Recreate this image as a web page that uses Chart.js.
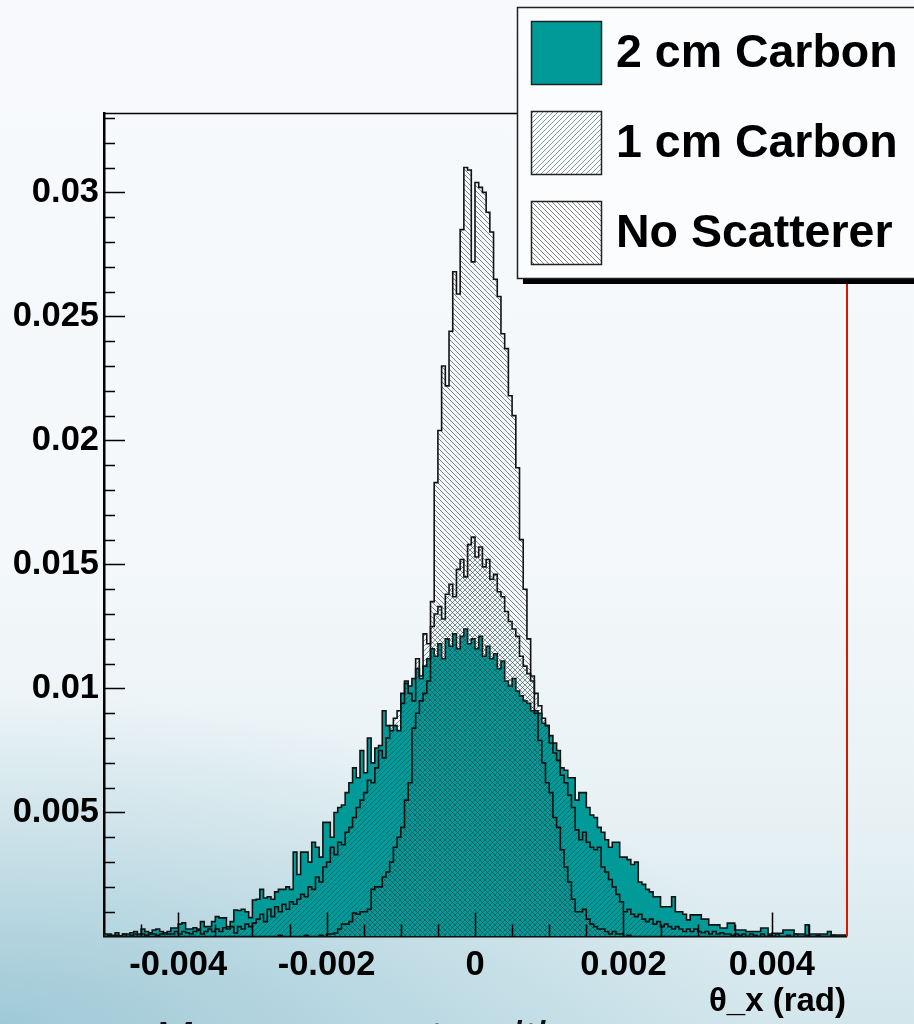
<!DOCTYPE html>
<html>
<head>
<meta charset="utf-8">
<script src="https://cdn.jsdelivr.net/npm/chart.js@4"></script>
<style>
  html, body { margin: 0; padding: 0; }
  body {
    width: 914px; height: 1024px; overflow: hidden; position: relative;
    background:
      radial-gradient(ellipse 760px 330px at 0% 100%, rgba(118, 178, 198, 0.55), rgba(118, 178, 198, 0) 100%),
      linear-gradient(to bottom, #f7f9fc 0%, #f4f8fa 55%, #e7f1f4 80%, #d2e6ec 100%);
  }
  #wrap { position: absolute; left: 0; top: 0; width: 914px; height: 1024px; }
  #caption {
    position: absolute; left: 153px; top: 1010px; white-space: nowrap;
    font: italic 47px "Liberation Sans", Arial, sans-serif; color: #111;
  }
</style>
</head>
<body>
<div id="wrap"><canvas id="thetaChart" width="914" height="1024"></canvas></div>
<div id="caption">Measurements with</div>
<script>
// histogram binning: 200 bins from -0.005 to 0.005 rad
const nBins = 200;
const xMin = -0.005;
const xMax = 0.005;

const seriesLabels = ["2 cm Carbon", "1 cm Carbon", "No Scatterer"];
const xTickValues = [-0.004, -0.002, 0, 0.002, 0.004];
const yTickValues = [0.005, 0.01, 0.015, 0.02, 0.025, 0.03];

// 2 cm carbon
const carbon2 = [
  0.0001, 0.0001, 0.00005, 0.00015, 0.00003, 0.0001, 0.0001, 0.00015, 0.0002, 0.0001,
  0.0003, 0.0002, 0.00015, 0.00026, 0.0003, 0.0002, 0.0001, 0.0002, 0.00034, 0.00034,
  0.0005, 0.00055, 0.0003, 0.0003, 0.00035, 0.0003, 0.0006, 0.0004, 0.0004, 0.0006,
  0.0008, 0.00075, 0.00075, 0.0004, 0.0006, 0.00107, 0.00105, 0.0011, 0.001, 0.00076,
  0.00147, 0.0015, 0.0019, 0.00155, 0.0016, 0.0015, 0.0018, 0.0019, 0.0019, 0.002,
  0.0019, 0.0034, 0.0025, 0.0034, 0.0034, 0.003, 0.0038, 0.0036, 0.0032, 0.0046,
  0.0046, 0.004, 0.005, 0.0052, 0.0053, 0.0058, 0.0062, 0.0068, 0.0064, 0.0075,
  0.0066, 0.008, 0.007, 0.0076, 0.0077, 0.0091, 0.0085, 0.0083, 0.0085, 0.0083,
  0.0098, 0.0103, 0.0101, 0.0104, 0.0108, 0.0104, 0.0109, 0.0112, 0.0116, 0.0113,
  0.0118, 0.0112, 0.012, 0.0117, 0.0122, 0.0116, 0.0121, 0.0124, 0.0118, 0.012,
  0.0116, 0.0121, 0.0113, 0.0117, 0.0112, 0.0114, 0.0108, 0.0111, 0.0103, 0.0101,
  0.0104, 0.0099, 0.0097, 0.0095, 0.0094, 0.0091, 0.0091, 0.009, 0.0086, 0.0085,
  0.0081, 0.0078, 0.0075, 0.0068, 0.0067, 0.0064, 0.0064, 0.0055, 0.0058, 0.0058,
  0.0052, 0.0049, 0.0048, 0.0044, 0.0042, 0.0039, 0.0036, 0.0038, 0.0038, 0.0032,
  0.0032, 0.0031, 0.0029, 0.003, 0.0022, 0.0021, 0.0019, 0.0018, 0.0016, 0.0016,
  0.0012, 0.0012, 0.0012, 0.0016, 0.001, 0.001, 0.0009, 0.00067, 0.00087, 0.00087,
  0.00087, 0.0007, 0.0007, 0.00047, 0.00047, 0.00047, 0.00034, 0.00034, 0.00054, 0.00054,
  0.00026, 0.00026, 0.00026, 0.0002, 0.0002, 0.0002, 0.0002, 0.00034, 0.00034, 0.0001,
  0.00013, 0.00013, 0.00013, 0.00026, 0.00026, 0.00026, 0.0001, 0.0001, 0.0001, 0.00047,
  0.0001, 0.0001, 0.0001, 0.0001, 0.0001, 0.0002, 0.00006, 0.00006, 0.00006, 0.00006
];

// 1 cm carbon
const carbon1 = [
  0, 0.00005, 0, 0.00005, 0, 0.0001, 0, 0.00005, 0.0001, 0,
  0.0001, 0.00005, 0.0001, 0.0001, 0.00005, 0.0001, 0.00015, 0.0001, 0.0001, 0.0002,
  0.0001, 0.0002, 0.00015, 0.0001, 0.0002, 0.00025, 0.0001, 0.0002, 0.0003, 0.0002,
  0.0003, 0.0002, 0.00035, 0.0003, 0.0004, 0.00014, 0.0004, 0.0003, 0.0005, 0.0004,
  0.00054, 0.0007, 0.0009, 0.0006, 0.0011, 0.0008, 0.0012, 0.001, 0.0013, 0.0011,
  0.0014, 0.0013, 0.0015, 0.0017, 0.0016, 0.002, 0.0019, 0.0024, 0.0022, 0.0028,
  0.003, 0.0036, 0.0033, 0.0038, 0.0037, 0.0042, 0.0044, 0.0048, 0.0052, 0.0055,
  0.0058, 0.0063, 0.0062, 0.0068, 0.0075, 0.0072, 0.008, 0.0085, 0.0088, 0.0091,
  0.0094, 0.0102, 0.0098, 0.0095, 0.0112, 0.0105, 0.0122, 0.0118, 0.0125, 0.013,
  0.0133, 0.0128, 0.0138, 0.0142, 0.0137, 0.0148, 0.0152, 0.0145, 0.0158, 0.0161,
  0.0153, 0.0157, 0.0149, 0.0152, 0.0144, 0.0146, 0.0139, 0.0137, 0.0131, 0.0127,
  0.0124, 0.0121, 0.0113, 0.0109, 0.0106, 0.0103, 0.0098, 0.0093, 0.0088, 0.0085,
  0.0078, 0.0074, 0.0071, 0.0065, 0.0062, 0.0057, 0.0052, 0.0043, 0.0039, 0.0042,
  0.0038, 0.0036, 0.0035, 0.0036, 0.0028, 0.0026, 0.0023, 0.002, 0.0017, 0.0014,
  0.001, 0.0011, 0.0009, 0.0008, 0.0009, 0.0007, 0.0006, 0.0007, 0.0005, 0.0006,
  0.0004, 0.0005, 0.0004, 0.0003, 0.0004, 0.0003, 0.0002, 0.0003, 0.0002, 0.0003,
  0.0002, 0.00015, 0.0002, 0.0001, 0.0002, 0.0001, 0.00015, 0.0001, 0.0001, 0.00005,
  0.0001, 0.00005, 0.0001, 0, 0.0001, 0.00005, 0, 0.0001, 0, 0.00005,
  0, 0.0001, 0, 0, 0.00005, 0, 0.0001, 0, 0, 0.00005,
  0, 0, 0.00005, 0, 0, 0, 0.00005, 0, 0, 0
];

// no scatterer
const noScatter = [
  0, 0, 0, 0, 0, 0, 0, 0, 0, 0,
  0, 0, 0, 0, 0, 0, 0, 0, 0, 0,
  0, 0, 0, 0, 0, 0, 0, 0, 0, 0,
  0, 0, 0, 0, 0, 0, 0, 0, 0, 0,
  0, 0, 0, 0, 0, 0, 0, 0.00005, 0, 0,
  0, 0, 0, 0, 0.00005, 0, 0, 0, 0.00005, 0,
  0.0001, 0.0001, 0.00014, 0.0003, 0.0005, 0.0005, 0.0006, 0.00095, 0.0009, 0.001,
  0.001, 0.0011, 0.0019, 0.002, 0.002, 0.0024, 0.0026, 0.003, 0.0036, 0.004,
  0.0044, 0.0055, 0.0062, 0.0084, 0.009, 0.0095, 0.0098, 0.0103, 0.0135, 0.0183,
  0.0204, 0.023, 0.0222, 0.0244, 0.0268, 0.0259, 0.0285, 0.031, 0.0309, 0.0272,
  0.0304, 0.0302, 0.03, 0.0292, 0.0284, 0.0265, 0.0258, 0.0243, 0.0237, 0.0218,
  0.021, 0.0189, 0.016, 0.014, 0.012, 0.0105, 0.009, 0.0079, 0.007, 0.0062,
  0.0058, 0.0048, 0.0044, 0.0035, 0.0028, 0.0022, 0.0015, 0.001, 0.001, 0.0011,
  0.0007, 0.0005, 0.0004, 0.0003, 0.0003, 0.0002, 0.0001, 0.0002, 0.0001, 0.0001,
  0, 0.00005, 0, 0, 0, 0, 0, 0, 0, 0,
  0, 0, 0, 0, 0, 0, 0, 0, 0, 0,
  0, 0, 0, 0, 0, 0, 0, 0, 0, 0,
  0, 0, 0, 0, 0, 0, 0, 0, 0, 0,
  0, 0, 0, 0, 0, 0, 0, 0, 0, 0,
  0, 0, 0, 0, 0, 0, 0, 0, 0, 0
];

const binWidth = (xMax - xMin) / nBins;

// points at the left edge of every bin, closed down to zero at both ends
function toSteps(values) {
  const pts = [{ x: xMin, y: 0 }];
  values.forEach((v, i) => pts.push({ x: xMin + i * binWidth, y: v }));
  pts.push({ x: xMax, y: values[values.length - 1] });
  pts.push({ x: xMax, y: 0 });
  return pts;
}

const canvas = document.getElementById("thetaChart");
const ctx = canvas.getContext("2d");

function makeHatch(color, size, dir) {
  const c = document.createElement("canvas");
  c.width = size;
  c.height = size;
  const g = c.getContext("2d");
  g.strokeStyle = color;
  g.lineWidth = 1;
  g.beginPath();
  if (dir > 0) {
    g.moveTo(-1, size + 1); g.lineTo(size + 1, -1);
  } else {
    g.moveTo(-1, -1); g.lineTo(size + 1, size + 1);
  }
  g.stroke();
  return ctx.createPattern(c, "repeat");
}

const teal = "#009a99";
const hatch1cm = makeHatch("rgba(18, 74, 76, 0.55)", 5, 1);
const hatchNone = makeHatch("rgba(50, 56, 58, 0.62)", 5, -1);
const fills = [teal, hatch1cm, hatchNone];

const minorX = [];
for (let k = -9; k <= 9; k++) minorX.push(k * 0.0005);
const minorY = [];
for (let k = 1; k <= 33; k++) minorY.push(k * 0.001);

// ROOT style: ticks drawn inside the frame, plus the frame itself
const frameTicks = {
  id: "frameTicks",
  afterDatasetsDraw(chart) {
    const { ctx, chartArea: a, scales: { x, y } } = chart;
    ctx.save();
    ctx.strokeStyle = "#000";
    ctx.lineWidth = 1.5;
    ctx.beginPath();
    minorX.forEach(v => {
      const px = Math.round(x.getPixelForValue(v)) + 0.5;
      const major = xTickValues.some(t => Math.abs(t - v) < 1e-9);
      ctx.moveTo(px, a.bottom);
      ctx.lineTo(px, a.bottom - (major ? 24 : 12));
    });
    minorY.forEach(v => {
      const py = Math.round(y.getPixelForValue(v)) + 0.5;
      const major = yTickValues.some(t => Math.abs(t - v) < 1e-9);
      ctx.moveTo(a.left, py);
      ctx.lineTo(a.left + (major ? 21 : 11), py);
    });
    ctx.stroke();
    // top edge of frame
    ctx.lineWidth = 1.5;
    ctx.beginPath();
    ctx.moveTo(a.left, a.top + 0.5);
    ctx.lineTo(a.right, a.top + 0.5);
    ctx.stroke();
    // right edge (red)
    ctx.strokeStyle = "#d41b00";
    ctx.lineWidth = 2;
    ctx.beginPath();
    ctx.moveTo(a.right + 1, a.top);
    ctx.lineTo(a.right + 1, a.bottom);
    ctx.stroke();
    ctx.restore();
  }
};

const boxLegend = {
  id: "boxLegend",
  afterDraw(chart) {
    const c = chart.ctx;
    c.save();
    c.fillStyle = "#000";
    c.fillRect(523, 279, 400, 5);
    c.fillStyle = "#fbfcfe";
    c.fillRect(517, 7, 400, 272);
    c.strokeStyle = "#222";
    c.lineWidth = 1.5;
    c.strokeRect(517.5, 7.5, 400, 271);
    seriesLabels.forEach((label, i) => {
      const top = 21 + i * 90;
      c.fillStyle = "#fff";
      c.fillRect(531, top, 70, 63);
      c.fillStyle = fills[i];
      c.fillRect(531, top, 70, 63);
      c.strokeStyle = "#222";
      c.lineWidth = 1.5;
      c.strokeRect(531.5, top + 0.5, 70, 63);
      c.fillStyle = "#000";
      c.font = 'bold 46.5px "Liberation Sans", Arial, sans-serif';
      c.textAlign = "left";
      c.textBaseline = "middle";
      c.fillText(label, 616, top + 33);
    });
    c.restore();
  }
};

const tickFont = { family: '"Liberation Sans", Arial, sans-serif', size: 34.5, weight: "bold" };

new Chart(ctx, {
  type: "line",
  data: {
    datasets: [
      { label: seriesLabels[0], data: toSteps(carbon2), backgroundColor: teal, order: 3 },
      { label: seriesLabels[1], data: toSteps(carbon1), backgroundColor: hatch1cm, order: 2 },
      { label: seriesLabels[2], data: toSteps(noScatter), backgroundColor: hatchNone, order: 1 }
    ].map(d => Object.assign(d, {
      stepped: "before",
      fill: "origin",
      borderColor: "#111",
      borderWidth: 1.6,
      pointRadius: 0,
      tension: 0
    }))
  },
  options: {
    responsive: false,
    animation: false,
    events: [],
    layout: { padding: { left: 0, right: 68, top: 113, bottom: 0 } },
    plugins: { legend: { display: false }, tooltip: { enabled: false } },
    scales: {
      x: {
        type: "linear",
        min: xMin,
        max: xMax,
        afterFit: s => { s.height = 87.5; },
        afterBuildTicks: s => { s.ticks = xTickValues.map(v => ({ value: v })); },
        grid: { display: false, drawTicks: false },
        border: { display: true, color: "#000", width: 2.5 },
        ticks: {
          color: "#000",
          font: tickFont,
          padding: 8,
          maxRotation: 0,
          autoSkip: false,
          callback: v => String(Number(v.toFixed(4)))
        },
        title: {
          display: true,
          text: "θ_x (rad)",
          align: "end",
          color: "#000",
          font: { family: '"Liberation Sans", Arial, sans-serif', size: 33, weight: "bold" },
          padding: { top: 0, bottom: 2 }
        }
      },
      y: {
        type: "linear",
        min: 0,
        max: 0.0332,
        afterFit: s => { s.width = 104; },
        afterBuildTicks: s => { s.ticks = yTickValues.map(v => ({ value: v })); },
        grid: { display: false, drawTicks: false },
        border: { display: true, color: "#000", width: 2.5 },
        ticks: {
          color: "#000",
          font: tickFont,
          padding: 5,
          autoSkip: false,
          callback: v => String(Number(v.toFixed(4)))
        }
      }
    }
  },
  plugins: [frameTicks, boxLegend]
});
</script>
</body>
</html>
